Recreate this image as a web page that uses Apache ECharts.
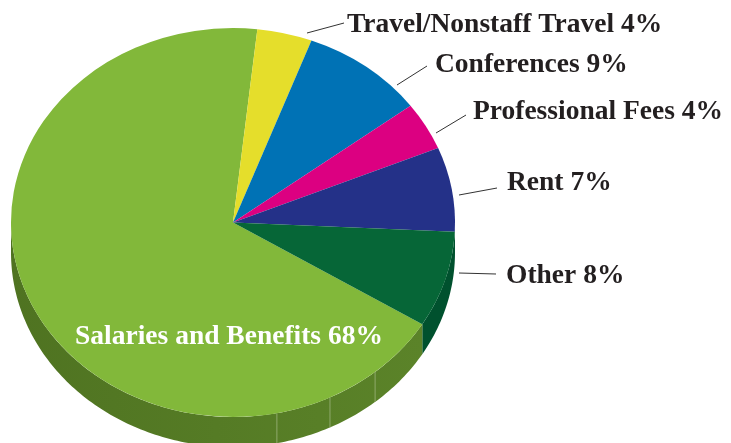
<!DOCTYPE html>
<html lang="en">

<head>
  <meta charset="UTF-8">
  <title>Expenses</title>
  <style>
    html,body {
      width:100%;
      height:100%;
      margin: 0;
      background: #fff;
    }
  </style>
</head>

<body>
  <div id="chart" style="width:731px;height:443px"></div>
  <script src="https://cdn.jsdelivr.net/npm/echarts@6/dist/echarts.min.js"></script>
  <script>
    var names = ['Salaries and Benefits', 'Travel/Nonstaff Travel', 'Conferences', 'Professional Fees', 'Rent', 'Other'];
    var shares = [68, 4, 9, 4, 7, 8];

    var colors = ['#82b83a', '#e5de2b', '#0072b5', '#dc0081', '#243188', '#066637'];
    // label anchor and leader line per slice, in pixels
    var labelPos = [[229, 337], [347, 25], [435, 65], [473, 112], [507, 183], [506, 276]];
    var leaders = [null, [307, 33, 344, 23], [397, 85, 427, 66], [436, 133, 466, 115], [459, 195, 497, 188], [459, 273, 496, 274]];

    var CX = 233, CY = 222.5, RX = 222, RY = 194.5, DEPTH = 30;
    var FIRST_ANGLE = 121.5; // clockwise from north, where the first slice begins
    var LABEL_FONT = 'bold 27.5px "Liberation Serif", serif';
    var seamAngles = [140.2, 154.1, 168.6];

    var total = shares.reduce(function (a, b) { return a + b; }, 0);
    var starts = [];
    var sum = FIRST_ANGLE;
    shares.forEach(function (v) {
      starts.push(sum);
      sum += v / total * 360;
    });

    function rimPoint(deg, dy) {
      var r = deg * Math.PI / 180;
      return [CX + RX * Math.sin(r), CY + dy - RY * Math.cos(r)];
    }

    // the pie's front wall between two angles
    function wallPoints(from, to) {
      var top = [], bottom = [];
      for (var a = from; a <= to; a += 1) {
        top.push(rimPoint(a, 0));
        bottom.unshift(rimPoint(a, DEPTH));
      }
      top.push(rimPoint(to, 0));
      bottom.unshift(rimPoint(to, DEPTH));
      return top.concat(bottom);
    }

    var myChart = echarts.init(document.getElementById('chart'));

    var walls = [
      { from: 90, to: starts[0], fill: '#00512e' },
      {
        from: starts[0], to: 270,
        fill: new echarts.graphic.LinearGradient(0, 0, 1, 0, [
          { offset: 0, color: '#4f7321' },
          { offset: 1, color: '#5b8329' }
        ])
      }
    ];

    var option = {
      backgroundColor: '#fff',
      animation: false,
      series: [{
        type: 'custom',
        coordinateSystem: 'none',
        silent: true,
        data: walls.map(function (w, i) { return i; }),
        renderItem: function (params) {
          var w = walls[params.dataIndex];
          return {
            type: 'polygon',
            shape: { points: wallPoints(w.from, w.to) },
            style: { fill: w.fill }
          };
        }
      }, {
        type: 'custom',
        coordinateSystem: 'none',
        silent: true,
        data: seamAngles,
        renderItem: function (params, api) {
          var a = rimPoint(api.value(0), 0), b = rimPoint(api.value(0), DEPTH);
          return {
            type: 'line',
            shape: { x1: a[0], y1: a[1], x2: b[0], y2: b[1] },
            style: { stroke: '#8fa96c', lineWidth: 1 }
          };
        }
      }, {
        type: 'custom',
        coordinateSystem: 'none',
        silent: true,
        data: shares,
        renderItem: function (params, api) {
          var i = params.dataIndex;
          var from = starts[i];
          var to = from + api.value(0) / total * 360;
          return {
            type: 'sector',
            x: CX,
            y: CY,
            scaleY: RY / RX,
            shape: {
              cx: 0,
              cy: 0,
              r0: 0,
              r: RX,
              startAngle: (from - 90) * Math.PI / 180,
              endAngle: (to - 90) * Math.PI / 180,
              clockwise: true
            },
            style: { fill: colors[i] }
          };
        }
      }, {
        type: 'custom',
        coordinateSystem: 'none',
        silent: true,
        data: names,
        renderItem: function (params) {
          var i = params.dataIndex;
          var children = [{
            type: 'text',
            x: labelPos[i][0],
            y: labelPos[i][1],
            style: {
              text: names[i] + ' ' + shares[i] + '%',
              font: LABEL_FONT,
              fill: i === 0 ? '#fff' : '#231f20',
              align: i === 0 ? 'center' : 'left',
              verticalAlign: 'middle'
            }
          }];
          if (leaders[i]) {
            children.push({
              type: 'line',
              shape: { x1: leaders[i][0], y1: leaders[i][1], x2: leaders[i][2], y2: leaders[i][3] },
              style: { stroke: '#333', lineWidth: 1 }
            });
          }
          return { type: 'group', children: children };
        }
      }]
    };

    myChart.setOption(option);
  </script>
</body>

</html>
